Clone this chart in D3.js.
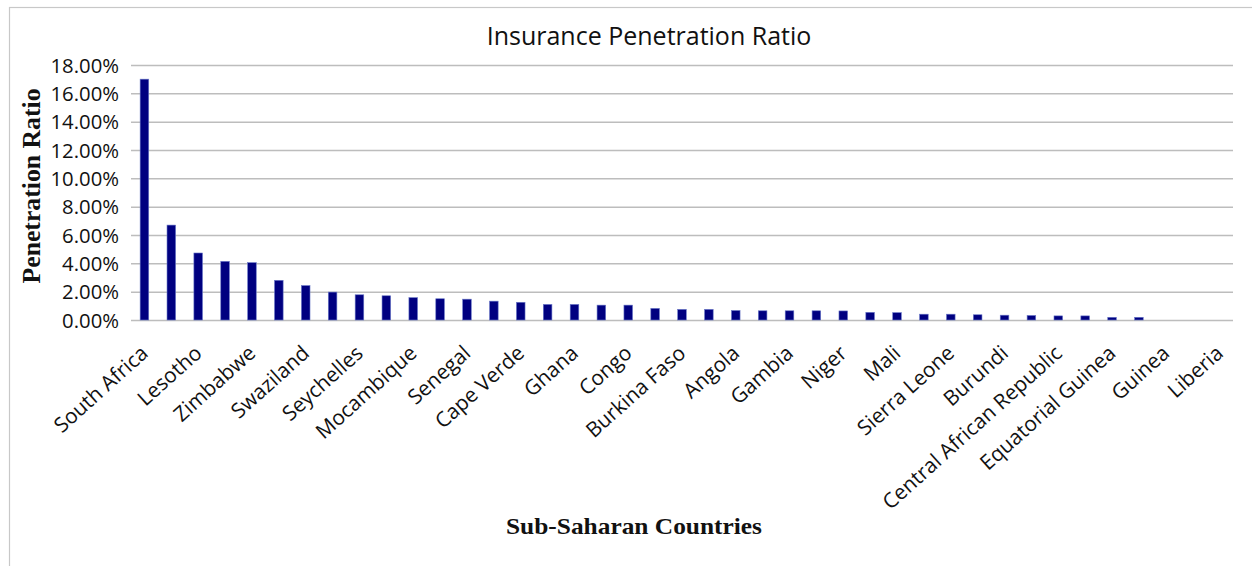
<!DOCTYPE html>
<html>
<head>
<meta charset="utf-8">
<script src="https://cdn.jsdelivr.net/npm/d3@7"></script>
<style>
  html, body { margin: 0; padding: 0; background: #fff; }
  svg { display: block; }
</style>
</head>
<body>
<svg id="chart" width="1252" height="566"></svg>
<script>
// ---- Data ----
const countries = [
  "South Africa", "Namibia", "Lesotho", "Mauritius", "Zimbabwe", "Kenya",
  "Swaziland", "Botswana", "Seychelles", "Togo", "Mocambique", "Côte d'Ivoire",
  "Senegal", "Cameroon", "Cape Verde", "Gabon", "Ghana", "Tanzania",
  "Congo", "Benin", "Burkina Faso", "Malawi", "Angola", "Uganda",
  "Gambia", "Nigeria", "Niger", "Zambia", "Mali", "Madagascar",
  "Sierra Leone", "Rwanda", "Burundi", "Ethiopia", "Central African Republic", "Chad",
  "Equatorial Guinea", "Sudan", "Guinea", "Eritrea", "Liberia"
];
const penetration = [
  17.0, 6.7, 4.73, 4.14, 4.05, 2.8,
  2.43, 1.97, 1.78, 1.71, 1.58, 1.5,
  1.47, 1.33, 1.25, 1.1, 1.1, 1.05,
  1.05, 0.82, 0.75, 0.75, 0.67, 0.65,
  0.65, 0.65, 0.64, 0.54, 0.52, 0.41,
  0.41, 0.37, 0.34, 0.32, 0.29, 0.29,
  0.19, 0.19, 0, 0, 0
];
const yTicks = [0, 2, 4, 6, 8, 10, 12, 14, 16, 18];
const chartTitle = "Insurance Penetration Ratio";
const xTitle = "Sub-Saharan Countries";
const yTitle = "Penetration Ratio";

// ---- Layout ----
const W = 1252, H = 566;
const plot = { left: 131, right: 1233, top: 65, bottom: 320 };

const svg = d3.select("#chart");

svg.append("rect").attr("x", 0).attr("y", 0).attr("width", W).attr("height", H).attr("fill", "#fff");
// chart frame
svg.append("rect")
  .attr("x", 9.5).attr("y", 7.5).attr("width", 1400).attr("height", 700)
  .attr("fill", "none").attr("stroke", "#c8c8c8").attr("stroke-width", 1.2);

const x = d3.scaleBand()
  .domain(countries)
  .range([plot.left, plot.right])
  .paddingInner(0.68)
  .paddingOuter(0.34);

const y = d3.scaleLinear()
  .domain([0, 18])
  .range([plot.bottom, plot.top]);

// gridlines + y labels via axis
const yAxis = d3.axisLeft(y)
  .tickValues(yTicks)
  .tickSize(-(plot.right - plot.left))
  .tickPadding(12)
  .tickFormat(d => d.toFixed(2) + "%");

const gy = svg.append("g")
  .attr("transform", `translate(${plot.left},0)`)
  .call(yAxis);
gy.select(".domain").remove();
gy.selectAll(".tick line").attr("stroke", "#bdbdbd").attr("stroke-width", 1.5);
gy.selectAll(".tick text")
  .attr("font-family", "'Open Sans', sans-serif")
  .attr("font-size", 20.3)
  .attr("fill", "#111")
  .attr("dy", "0.36em");

// bars
svg.append("g").selectAll("rect")
  .data(countries.map((c, i) => ({ c, v: penetration[i] })))
  .join("rect")
  .attr("x", d => x(d.c))
  .attr("width", x.bandwidth())
  .attr("y", d => y(d.v))
  .attr("height", d => y(0) - y(d.v))
  .attr("fill", "#000080")
  .attr("stroke", d => d.v > 0 ? "#6a78c8" : "none")
  .attr("stroke-width", 0.6);

// x labels (every other category shown)
const xAxis = d3.axisBottom(x)
  .tickSize(0)
  .tickFormat((d, i) => (i % 2 === 0 ? d : ""));
const gx = svg.append("g")
  .attr("transform", `translate(0,${plot.bottom})`)
  .call(xAxis);
gx.select(".domain").remove();
gx.selectAll(".tick text")
  .attr("font-family", "'Open Sans', sans-serif")
  .attr("font-size", 20.8)
  .attr("fill", "#111")
  .attr("text-anchor", "end")
  .attr("x", 0).attr("y", 0).attr("dy", 0)
  .attr("transform", "translate(5,35) rotate(-42)");

// title
svg.append("text")
  .attr("x", 649).attr("y", 45)
  .attr("text-anchor", "middle")
  .attr("font-family", "'Open Sans', sans-serif")
  .attr("font-size", 25)
  .attr("fill", "#111")
  .text(chartTitle);

// x axis title
svg.append("text")
  .attr("x", 634).attr("y", 534)
  .attr("text-anchor", "middle")
  .attr("font-family", "'Liberation Serif', 'Times New Roman', serif")
  .attr("font-weight", "bold")
  .attr("font-size", 23.5)
  .attr("textLength", 256)
  .attr("lengthAdjust", "spacingAndGlyphs")
  .attr("fill", "#111")
  .text(xTitle);

// y axis title
svg.append("text")
  .attr("transform", "translate(40,186) rotate(-90)")
  .attr("text-anchor", "middle")
  .attr("font-family", "'Liberation Serif', 'Times New Roman', serif")
  .attr("font-weight", "bold")
  .attr("font-size", 26)
  .attr("textLength", 195)
  .attr("lengthAdjust", "spacingAndGlyphs")
  .attr("fill", "#111")
  .text(yTitle);
</script>
</body>
</html>
